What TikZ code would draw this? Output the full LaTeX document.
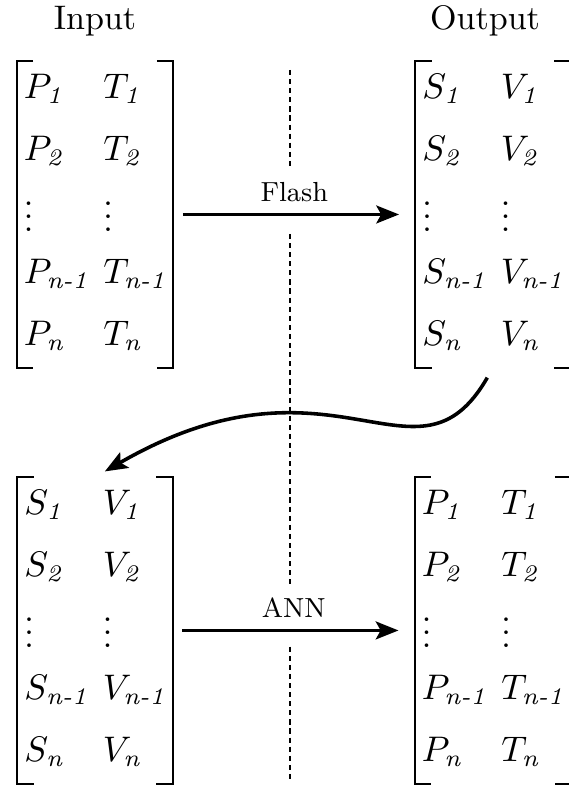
\documentclass[tikz,border=0pt]{standalone}
\usepackage{amsmath}
\usetikzlibrary{arrows.meta,positioning,matrix}
\newcommand{\dn}{\raisebox{-3pt}{$\vdots$}}

\begin{document}
\begin{tikzpicture}[font=\fontsize{10.5}{12}\selectfont,
mat/.style={matrix of math nodes,inner xsep=2pt,inner ysep=3.3pt,row sep=7.5pt,column sep=4.5pt,nodes={anchor=base west,inner sep=0pt,text height=8pt,text depth=3.5pt}},
arr/.style={-{Stealth[length=7pt,width=5.5pt,inset=1.5pt]},line width=1.1pt},
lbl/.style={font=\fontsize{8.5}{10}\selectfont,inner sep=3.5pt},
sep/.style={thin,dash pattern=on 1.6pt off 1.2pt}]
\useasboundingbox (0,0) rectangle (6.152,-8.502);
% headings
\node (inlbl) at (1.029,-0.230) {Input};
\node (outlbl) at (5.253,-0.230) {Output};
% the four matrices
\matrix[mat] (inp) at (1.029,-2.323) {
P_{\textit{1}} & T_{\textit{1}} \\
P_{\textit{2}} & T_{\textit{2}} \\
\dn & \dn \\
P_{\textit{n-1}} & T_{\textit{n-1}} \\
P_{\textit{n}} & T_{\textit{n}} \\
};
\matrix[mat] (outp) at (5.339,-2.323) {
S_{\textit{1}} & V_{\textit{1}} \\
S_{\textit{2}} & V_{\textit{2}} \\
\dn & \dn \\
S_{\textit{n-1}} & V_{\textit{n-1}} \\
S_{\textit{n}} & V_{\textit{n}} \\
};
\matrix[mat] (ann) at (1.029,-6.828) {
S_{\textit{1}} & V_{\textit{1}} \\
S_{\textit{2}} & V_{\textit{2}} \\
\dn & \dn \\
S_{\textit{n-1}} & V_{\textit{n-1}} \\
S_{\textit{n}} & V_{\textit{n}} \\
};
\matrix[mat] (pred) at (5.339,-6.828) {
P_{\textit{1}} & T_{\textit{1}} \\
P_{\textit{2}} & T_{\textit{2}} \\
\dn & \dn \\
P_{\textit{n-1}} & T_{\textit{n-1}} \\
P_{\textit{n}} & T_{\textit{n}} \\
};
% brackets
\foreach \m in {inp,outp,ann,pred}{
\draw[semithick] ([xshift=5pt]\m.north west) -- (\m.north west) -- (\m.south west) -- ([xshift=5pt]\m.south west);
\draw[semithick] ([xshift=-5pt]\m.north east) -- (\m.north east) -- (\m.south east) -- ([xshift=-5pt]\m.south east);
}
% arrows
\draw[arr,shorten <=3pt,shorten >=5pt] (inp) -- node[lbl,above] (fl) {Flash} (outp);
\draw[arr,shorten <=3pt,shorten >=5pt] (ann) -- node[lbl,above] (nn) {ANN} (pred);
% dashed divider
\coordinate (top) at (3.141,-0.758);
\coordinate (bot) at (3.141,-8.469);
\draw[sep] (top) -- (top |- fl.north);
\draw[sep] ([yshift=-6pt]top |- fl.south) -- (top |- nn.north);
\draw[sep] ([yshift=-5pt]top |- nn.south) -- (bot);
\draw[arr,shorten <=3.5pt,shorten >=3.5pt] (outp.south) to[out=-120,in=30,out distance=1.65cm,in distance=3.0cm] (ann.north);
\end{tikzpicture}
\end{document}
